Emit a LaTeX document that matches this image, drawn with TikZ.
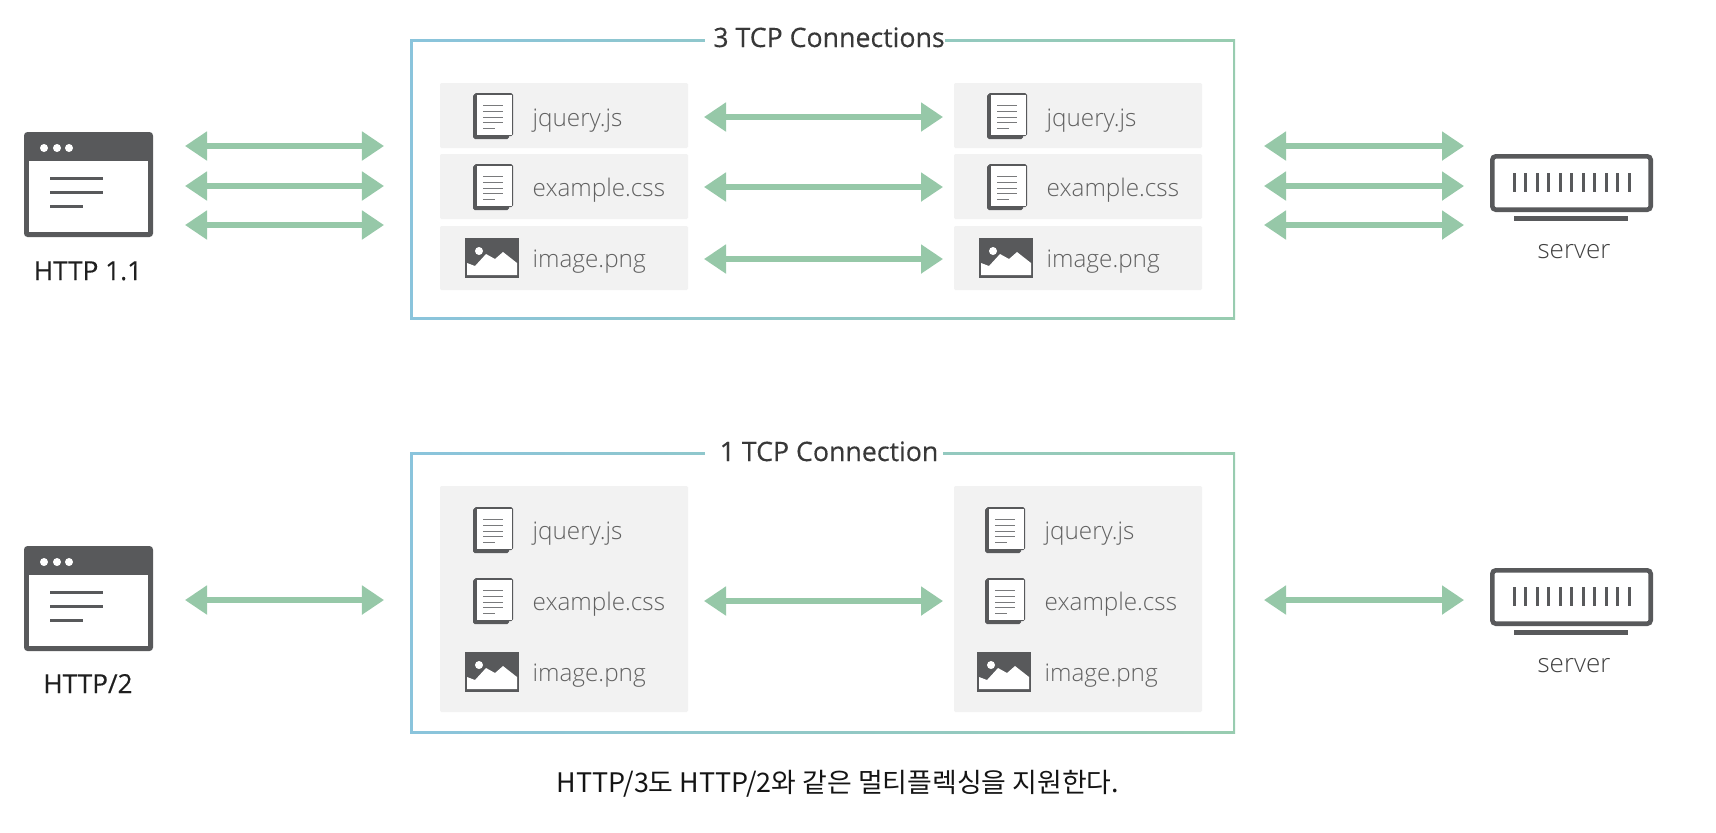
\documentclass[tikz,border=0pt]{standalone}
\usepackage{fontspec}
\setmainfont{Open Sans}
\newfontfamily\lightfont{Open Sans Light}
\newfontfamily\medfont{Open Sans}[FakeBold=0.3]
\newfontfamily\krfont{Noto Sans CJK KR}
\usetikzlibrary{arrows.meta}
\definecolor{iconc}{HTML}{58595B}
\definecolor{arrowc}{HTML}{96C8A8}
\definecolor{rowc}{HTML}{F2F2F2}
\definecolor{boxl}{HTML}{8AC4DC}
\definecolor{boxr}{HTML}{98CCB0}
\tikzset{
	twoway/.style={draw=arrowc, line width=1.45pt, >={Triangle[length=2.2mm,width=2.8mm]}, <->},
	rowbox/.style={fill=rowc, rounded corners=0.4pt},
	filetxt/.style={anchor=base west, inner sep=0pt, text=black!62, font=\lightfont\fontsize{6.9pt}{8pt}\selectfont},
	hosttxt/.style={anchor=base, inner sep=0pt, text=black!88, font=\medfont\fontsize{7.45pt}{8pt}\selectfont},
	servertxt/.style={anchor=base, inner sep=0pt, text=black!75, font=\lightfont\fontsize{7.4pt}{8pt}\selectfont},
	titletxt/.style={anchor=base, inner sep=0pt, text=black!78, font=\medfont\fontsize{7.6pt}{8pt}\selectfont}
}
\def\docicon(#1,#2){
	\begin{scope}[shift={(#1,#2)}]
		\fill[iconc, rounded corners=0.5pt] (0,1) rectangle (36,46);
		\fill[iconc, rounded corners=0.5pt] (1,0) rectangle (40,43);
		\fill[white] (4,2) rectangle (39,42);
		\draw[iconc!80, line width=0.25pt] (10,12) -- (30,12);
		\draw[iconc!80, line width=0.25pt] (10,18) -- (30,18);
		\draw[iconc!80, line width=0.25pt] (10,24) -- (30,24);
		\draw[iconc!80, line width=0.25pt] (10,29.500) -- (30,29.500);
		\draw[iconc!80, line width=0.25pt] (10,35) -- (22,35);
	\end{scope}
}
\def\imgicon(#1,#2){
	\begin{scope}[shift={(#1,#2)}]
		\fill[iconc] (0,0) rectangle (54,40);
		\fill[white] (2,25) -- (10,28) -- (21,16) -- (30,21) -- (38,14) -- (52,25) -- (52,37) -- (2,37) -- cycle;
		\fill[white] (14,13) circle (4);
	\end{scope}
}
\def\browsericon(#1,#2){
	\begin{scope}[shift={(#1,#2)}]
		\fill[iconc, rounded corners=1pt] (0,0) rectangle (129,105);
		\fill[white] (5,29) rectangle (124,100);
		\fill[white] (20,16) circle (4);
		\fill[white] (33,16) circle (4);
		\fill[white] (45,16) circle (4);
		\fill[iconc] (26,44.500) rectangle (79,47.500);
		\fill[iconc] (26,58.500) rectangle (79,61.500);
		\fill[iconc] (26,72.500) rectangle (59,75.500);
	\end{scope}
}
\def\servericon(#1,#2){
	\begin{scope}[shift={(#1,#2)}]
		\draw[iconc, line width=1.3pt, rounded corners=1pt] (2.300,2.300) rectangle (160.700,55.700);
		\foreach \barx in {0,...,10} {
			\fill[iconc] ({24+\barx*11.500-1.500},19) rectangle ({24+\barx*11.500+1.500},38);
		}
		\fill[iconc] (24,62) rectangle (138,67);
	\end{scope}
}

\begin{document}
\begin{tikzpicture}[x=0.01cm, y=-0.01cm]
	%%%%% START %%%%%
	\useasboundingbox (0,0) rectangle (1716,832);

	\shade[left color=boxl, right color=boxr] (410,39) rectangle (1235,319);
	\fill[white] (412.500,41.500) rectangle (1232.500,316.500);
	\fill[white] (705,35) rectangle (945,45);
	\node[titletxt] (title1) at (829,47) {3 TCP Connections};

	\fill[rowbox] (440,83) rectangle (688,148);
	\fill[rowbox] (440,154) rectangle (688,219);
	\fill[rowbox] (440,226) rectangle (688,290);
	\fill[rowbox] (954,83) rectangle (1202,148);
	\fill[rowbox] (954,154) rectangle (1202,219);
	\fill[rowbox] (954,226) rectangle (1202,290);

	\docicon(473,93)
	\docicon(473,164)
	\imgicon(465,238)
	\docicon(987,93)
	\docicon(987,164)
	\imgicon(979,238)

	\node[filetxt] (js1l) at (532,126) {jquery.js};
	\node[filetxt] (css1l) at (532,196) {example.css};
	\node[filetxt] (png1l) at (532,267) {image.png};
	\node[filetxt] (js1r) at (1046,126) {jquery.js};
	\node[filetxt] (css1r) at (1046,196) {example.css};
	\node[filetxt] (png1r) at (1046,267) {image.png};

	\browsericon(24,132)
	\node[hosttxt] (http1) at (88,280) {HTTP 1.1};
	\servericon(1490,154)
	\node[servertxt] (server1) at (1574,258) {server};

	\coordinate (a1l) at (185,146);
	\coordinate (a1r) at (384,146);
	\coordinate (a2l) at (185,186);
	\coordinate (a2r) at (384,186);
	\coordinate (a3l) at (185,225);
	\coordinate (a3r) at (384,225);
	\draw[twoway] (a1l) -- (a1r);
	\draw[twoway] (a2l) -- (a2r);
	\draw[twoway] (a3l) -- (a3r);

	\coordinate (m1l) at (704,117);
	\coordinate (m1r) at (943,117);
	\coordinate (m2l) at (704,187);
	\coordinate (m2r) at (943,187);
	\coordinate (m3l) at (704,259);
	\coordinate (m3r) at (943,259);
	\draw[twoway] (m1l) -- (m1r);
	\draw[twoway] (m2l) -- (m2r);
	\draw[twoway] (m3l) -- (m3r);

	\coordinate (b1l) at (1264,146);
	\coordinate (b1r) at (1464,146);
	\coordinate (b2l) at (1264,186);
	\coordinate (b2r) at (1464,186);
	\coordinate (b3l) at (1264,225);
	\coordinate (b3r) at (1464,225);
	\draw[twoway] (b1l) -- (b1r);
	\draw[twoway] (b2l) -- (b2r);
	\draw[twoway] (b3l) -- (b3r);

	\shade[left color=boxl, right color=boxr] (410,452) rectangle (1235,733);
	\fill[white] (412.500,454.500) rectangle (1232.500,730.500);
	\fill[white] (705,448) rectangle (943,458);
	\node[titletxt] (title2) at (829,461) {1 TCP Connection};

	\fill[rowbox] (440,486) rectangle (688,712);
	\fill[rowbox] (954,486) rectangle (1202,712);

	\docicon(473,507)
	\docicon(473,578)
	\imgicon(465,652)
	\docicon(985,507)
	\docicon(985,578)
	\imgicon(977,652)

	\node[filetxt] (js2l) at (532,539) {jquery.js};
	\node[filetxt] (css2l) at (532,610) {example.css};
	\node[filetxt] (png2l) at (532,681) {image.png};
	\node[filetxt] (js2r) at (1044,539) {jquery.js};
	\node[filetxt] (css2r) at (1044,610) {example.css};
	\node[filetxt] (png2r) at (1044,681) {image.png};

	\browsericon(24,546)
	\node[hosttxt] (http2) at (88,693) {HTTP/2};
	\servericon(1490,568)
	\node[servertxt] (server2) at (1574,672) {server};

	\coordinate (c1l) at (185,600);
	\coordinate (c1r) at (384,600);
	\coordinate (d1l) at (704,601);
	\coordinate (d1r) at (943,601);
	\coordinate (e1l) at (1264,600);
	\coordinate (e1r) at (1464,600);
	\draw[twoway] (c1l) -- (c1r);
	\draw[twoway] (d1l) -- (d1r);
	\draw[twoway] (e1l) -- (e1r);

	\node[anchor=base, inner sep=0pt, text=black!92, font=\krfont\fontsize{7.65pt}{9pt}\selectfont] (caption) at (838,792) {HTTP/3도 HTTP/2와 같은 멀티플렉싱을 지원한다.};
	%%%%% END %%%%%
\end{tikzpicture}
\end{document}
